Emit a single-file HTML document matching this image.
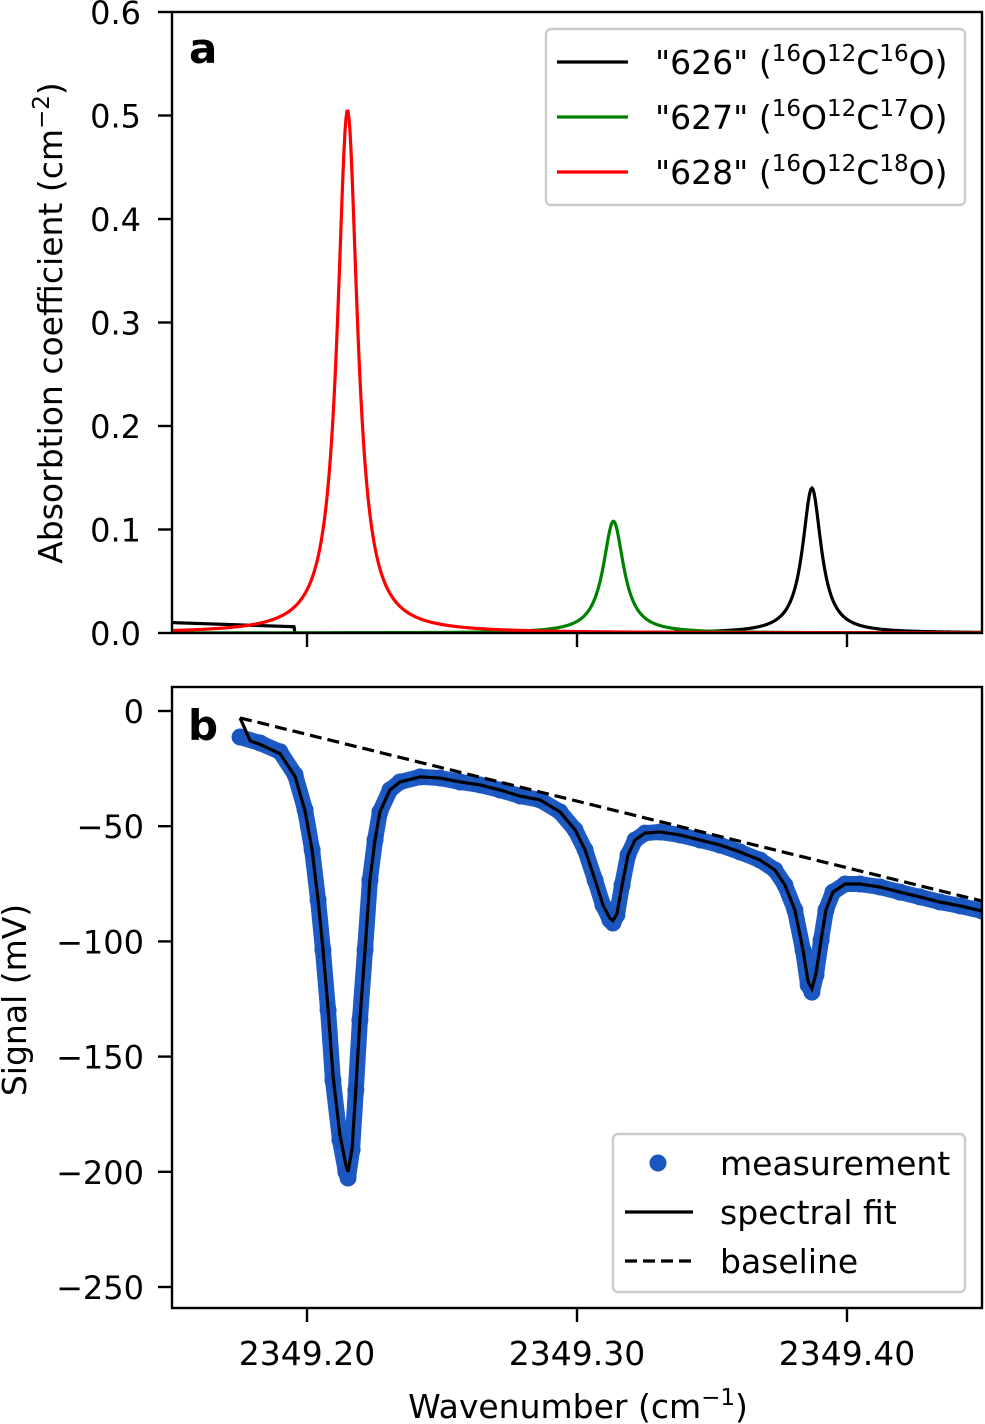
<!DOCTYPE html>
<html><head><meta charset="utf-8"><style>
body{margin:0;background:#fff}
svg{display:block;font-family:"DejaVu Sans","Liberation Sans",sans-serif}
</style></head><body>
<svg id="fig" width="985" height="1424" viewBox="0 0 985 1424">
<g id="pa"></g>
<g id="pb"></g>
</svg>
<script>
// ---- data ----
const xTicks=[2349.20,2349.30,2349.40];
const xTickLabels=["2349.20","2349.30","2349.40"];
const aYTicks=[0,0.1,0.2,0.3,0.4,0.5,0.6];
const aYTickLabels=["0.0","0.1","0.2","0.3","0.4","0.5","0.6"];
const bYTicks=[0,-50,-100,-150,-200,-250];
const bYTickLabels=["0","\u221250","\u2212100","\u2212150","\u2212200","\u2212250"];
const isoNames=["626","627","628"];
const isoColors=["#000","#008000","#ff0000"];
const isoCenters=[2349.387,2349.3135,2349.215];
const isoHeights=[0.14,0.108,0.505];
const isoHWHM=[0.0042,0.0046,0.0045];
const measX=[2349.1752,2349.1826,2349.1900,2349.1956,2349.1993,2349.2019,2349.2041,2349.2059,2349.2078,2349.2096,2349.2122,2349.2144,2349.2152,2349.2167,2349.2181,2349.2196,2349.2215,2349.2233,2349.2252,2349.2270,2349.2307,2349.2344,2349.2419,2349.2493,2349.2567,2349.2641,2349.2715,2349.2789,2349.2863,2349.2937,2349.2993,2349.3030,2349.3067,2349.3096,2349.3122,2349.3133,2349.3148,2349.3167,2349.3189,2349.3215,2349.3252,2349.3307,2349.3381,2349.3456,2349.3530,2349.3604,2349.3678,2349.3733,2349.3770,2349.3807,2349.3837,2349.3856,2349.3870,2349.3885,2349.3904,2349.3922,2349.3948,2349.3993,2349.4048,2349.4122,2349.4196,2349.4270,2349.4344,2349.4419,2349.4500];
const measY=[-11.3,-13.9,-17.7,-27.7,-42.9,-60.3,-82.0,-103.7,-129.8,-160.2,-186.2,-200.1,-202.7,-190.5,-164.5,-134.1,-103.7,-73.4,-56.0,-43.8,-34.3,-30.8,-28.6,-29.1,-30.8,-32.1,-34.3,-36.9,-38.6,-43.8,-51.6,-60.3,-73.4,-84.2,-90.7,-92.0,-88.5,-75.5,-62.5,-56.0,-53.0,-52.5,-53.8,-56.0,-58.2,-61.2,-64.7,-69.0,-75.5,-86.4,-103.7,-118.9,-122.0,-114.6,-99.4,-86.4,-78.6,-75.1,-75.1,-76.4,-78.6,-80.7,-82.9,-84.6,-86.8];
const fitX=[2349.1752,2349.1790,2349.1826,2349.1900,2349.1956,2349.1993,2349.2019,2349.2041,2349.2059,2349.2078,2349.2096,2349.2122,2349.2144,2349.2152,2349.2167,2349.2181,2349.2196,2349.2215,2349.2233,2349.2252,2349.2270,2349.2307,2349.2344,2349.2419,2349.2493,2349.2567,2349.2641,2349.2715,2349.2789,2349.2863,2349.2937,2349.2993,2349.3030,2349.3067,2349.3096,2349.3122,2349.3133,2349.3148,2349.3167,2349.3189,2349.3215,2349.3252,2349.3307,2349.3381,2349.3456,2349.3530,2349.3604,2349.3678,2349.3733,2349.3770,2349.3807,2349.3837,2349.3856,2349.3870,2349.3885,2349.3904,2349.3922,2349.3948,2349.3993,2349.4048,2349.4122,2349.4196,2349.4270,2349.4344,2349.4419,2349.4500];
const fitY=[-3,-13,-14.5,-18.5,-28.5,-43.5,-60.5,-82.0,-103.0,-129.0,-158.0,-184.0,-197.0,-200.0,-190.0,-164.0,-134.0,-103.7,-73.4,-56.0,-43.8,-34.3,-30.8,-28.6,-29.1,-30.8,-32.1,-34.3,-36.9,-38.6,-43.8,-51.6,-60.3,-73.4,-84.2,-90.0,-91.0,-88.0,-75.5,-62.5,-56.0,-53.0,-52.5,-53.8,-56.0,-58.2,-61.2,-64.7,-69.0,-75.5,-86.4,-103.7,-117.5,-120.5,-114.0,-99.4,-86.4,-78.6,-75.1,-75.1,-76.4,-78.6,-80.7,-82.9,-84.6,-86.8];
const baseX=[2349.1752,2349.45];
const baseY=[-3,-82.5];

// ---- scales ----
const X0=172,X1=982;
const xs=v=>X0+(v-2349.15)/0.30*(X1-X0);
const ayT=12,ayB=633; const ay=v=>ayB-v/0.6*(ayB-ayT);
const byT=687,byB=1308; const by=v=>711-v*(115.2/50);
const NS="http://www.w3.org/2000/svg";
function mk(p,tag,at,txt){const e=document.createElementNS(NS,tag);for(const k in at)e.setAttribute(k,at[k]);if(txt!==undefined)e.textContent=txt;p.appendChild(e);return e;}
const pa=document.getElementById('pa'),pb=document.getElementById('pb');

// ---- panel a curves ----
function lor(x,i){const g=isoHWHM[i];const d=x-isoCenters[i];return isoHeights[i]*g*g/(d*d+g*g);}
const clipA=mk(pa,'clipPath',{id:'ca'});mk(clipA,'rect',{x:X0,y:ayT,width:X1-X0,height:ayB-ayT});
for(let i=0;i<3;i++){
  let pts=[];
  for(let px=X0;px<=X1;px+=1){const w=2349.15+(px-X0)/(X1-X0)*0.30;let v=lor(w,i);
    if(i===0&&px<=294)v+=0.010-(px-X0)/(294-X0)*0.004;
    pts.push(px+','+ay(v).toFixed(2));}
  const pl=mk(pa,'polyline',{points:pts.join(' '),fill:'none',stroke:isoColors[i],'stroke-width':3.2,'clip-path':'url(#ca)'});
  
  
}
// ---- panel b ----
const clipB=mk(pb,'clipPath',{id:'cb'});mk(clipB,'rect',{x:X0,y:byT,width:X1-X0,height:byB-byT});
const gM=mk(pb,'g',{'clip-path':'url(#cb)'});


mk(gM,'polyline',{points:measX.map((x,i)=>xs(x)+','+by(measY[i])).join(' '),fill:'none',stroke:'#1f5bc4','stroke-width':16,'stroke-linejoin':'round','stroke-linecap':'round'});
measX.forEach((x,i)=>{const c=mk(gM,'circle',{cx:xs(x),cy:by(measY[i]),r:8.5,fill:'#1a56c0'});
  
  });
const fl=mk(pb,'polyline',{points:fitX.map((x,i)=>xs(x)+','+by(fitY[i])).join(' '),fill:'none',stroke:'#000','stroke-width':3.2,'clip-path':'url(#cb)'});


const bl=mk(pb,'polyline',{points:baseX.map((x,i)=>xs(x)+','+by(baseY[i])).join(' '),fill:'none',stroke:'#000','stroke-width':3.2,'stroke-dasharray':'12,6','clip-path':'url(#cb)'});



// ---- axes ----
function frame(p,top,bot,name){const r=mk(p,'rect',{x:X0,y:top,width:X1-X0,height:bot-top,fill:'none',stroke:'#000','stroke-width':2.4});
  }
frame(pa,ayT,ayB,'axes-frame-a');frame(pb,byT,byB,'axes-frame-b');
xTicks.forEach((t,i)=>{const x=xs(t);
  mk(pa,'line',{x1:x,y1:ayB,x2:x,y2:ayB+14,stroke:'#000','stroke-width':2.4});
  mk(pb,'line',{x1:x,y1:byB,x2:x,y2:byB+14,stroke:'#000','stroke-width':2.4});
  const tl=mk(pb,'text',{x:x,y:1365,'font-size':33,'text-anchor':'middle'},xTickLabels[i]);
  });
aYTicks.forEach((t,i)=>{const y=ay(t);mk(pa,'line',{x1:X0-14,y1:y,x2:X0,y2:y,stroke:'#000','stroke-width':2.4});
  const tl=mk(pa,'text',{x:X0-31,y:y+12,'font-size':32,'text-anchor':'end'},aYTickLabels[i]);
  });
bYTicks.forEach((t,i)=>{const y=by(t);mk(pb,'line',{x1:X0-14,y1:y,x2:X0,y2:y,stroke:'#000','stroke-width':2.4});
  const tl=mk(pb,'text',{x:X0-28,y:y+12,'font-size':32,'text-anchor':'end'},bYTickLabels[i]);
  });
</script>
<div style="position:absolute;left:0;top:0;width:985px;height:1424px;pointer-events:none">
<svg width="985" height="1424" style="font-family:'DejaVu Sans','Liberation Sans',sans-serif">
<text x="189" y="63" font-size="42" font-weight="bold">a</text>
<text x="188" y="740" font-size="42" font-weight="bold">b</text>
<text transform="translate(62,323) rotate(-90)" font-size="33" text-anchor="middle">Absorbtion coefficient (cm<tspan font-size="23" dy="-13">−2</tspan><tspan dy="13">)</tspan></text>
<text transform="translate(26,1000) rotate(-90)" font-size="33" text-anchor="middle">Signal (mV)</text>
<text x="578" y="1418" font-size="33" text-anchor="middle">Wavenumber (cm<tspan font-size="23" dy="-13">−1</tspan><tspan dy="13">)</tspan></text>
<g>
<rect x="546" y="29" width="419" height="176" rx="5" fill="#fff" fill-opacity="0.85" stroke="#ccc" stroke-width="2.4"/>
<line x1="557" y1="62" x2="628" y2="62" stroke="#000" stroke-width="3.2"/>
<line x1="557" y1="117" x2="628" y2="117" stroke="#008000" stroke-width="3.2"/>
<line x1="557" y1="172" x2="628" y2="172" stroke="#ff0000" stroke-width="3.2"/>
<text x="655" y="74" font-size="33">"626" (<tspan font-size="23" dy="-13">16</tspan><tspan dy="13">O</tspan><tspan font-size="23" dy="-13">12</tspan><tspan dy="13">C</tspan><tspan font-size="23" dy="-13">16</tspan><tspan dy="13">O)</tspan></text>
<text x="655" y="129" font-size="33">"627" (<tspan font-size="23" dy="-13">16</tspan><tspan dy="13">O</tspan><tspan font-size="23" dy="-13">12</tspan><tspan dy="13">C</tspan><tspan font-size="23" dy="-13">17</tspan><tspan dy="13">O)</tspan></text>
<text x="655" y="184" font-size="33">"628" (<tspan font-size="23" dy="-13">16</tspan><tspan dy="13">O</tspan><tspan font-size="23" dy="-13">12</tspan><tspan dy="13">C</tspan><tspan font-size="23" dy="-13">18</tspan><tspan dy="13">O)</tspan></text>
</g>
<g>
<rect x="613" y="1134" width="352" height="158" rx="5" fill="#fff" fill-opacity="0.85" stroke="#ccc" stroke-width="2.4"/>
<circle cx="658" cy="1163" r="8.5" fill="#1a56c0"/>
<line x1="625" y1="1212" x2="693" y2="1212" stroke="#000" stroke-width="3.2"/>
<line x1="625" y1="1261" x2="693" y2="1261" stroke="#000" stroke-width="3.2" stroke-dasharray="12,6"/>
<text x="720" y="1175" font-size="33">measurement</text>
<text x="720" y="1224" font-size="33">spectral fit</text>
<text x="720" y="1273" font-size="33">baseline</text>
</g>
</svg>
</div>
</body></html>
